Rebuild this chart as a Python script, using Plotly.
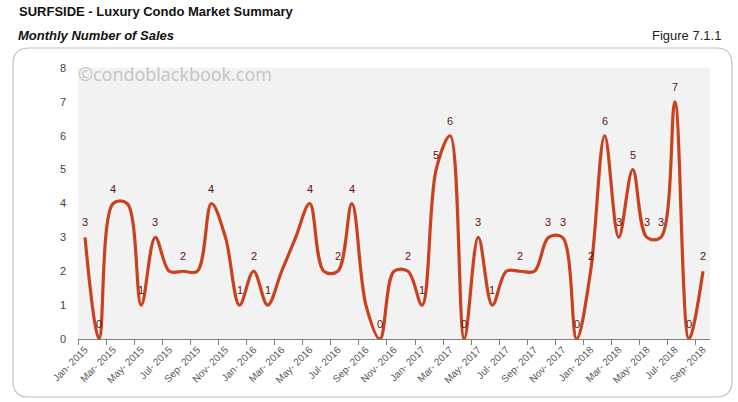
import plotly.graph_objects as go

# monthly number of sales, Jan 2015 .. Sep 2018
months = ["Jan", "Feb", "Mar", "Apr", "May", "Jun", "Jul", "Aug", "Sep", "Oct", "Nov", "Dec"]
years = [2015, 2016, 2017, 2018]
sales = [3, 0, 4, 4, 1, 3, 2, 2, 2, 4, 3, 1,
         2, 1, 2, 3, 4, 2, 2, 4, 1, 0, 2, 2,
         1, 5, 6, 0, 3, 1, 2, 2, 2, 3, 3, 0,
         2, 6, 3, 5, 3, 3, 7, 0, 2]
# which points carry a data label in the original
labeled = [1, 1, 1, 0, 1, 1, 0, 1, 0, 1, 0, 1,
           1, 1, 0, 0, 1, 0, 1, 1, 0, 1, 0, 1,
           1, 1, 1, 1, 1, 1, 0, 1, 0, 1, 1, 1,
           1, 1, 1, 1, 1, 1, 1, 1, 1]

month_labels = [f"{m}- {y}" for y in years for m in months][:len(sales)]
idx = list(range(len(sales)))

W, H = 738, 402
L, T = 78, 68
R, B = W - 710, H - 339
pw, ph = W - L - R, H - T - B


def px(x):
    return (x - L) / pw


def py_(y):
    return (H - B - y) / ph


fig = go.Figure()
fig.add_trace(go.Scatter(
    x=idx, y=sales, mode="lines",
    line=dict(color="#c9411e", width=3.2, shape="spline", smoothing=1.0),
    hoverinfo="skip", showlegend=False,
))

# data labels sit a little above each point
for i, v, f in zip(idx, sales, labeled):
    if f:
        fig.add_annotation(x=i, y=v, text=str(v), showarrow=False,
                           yshift=15, yanchor="middle",
                           font=dict(family="Liberation Sans, Arial", size=11,
                                     color="#5e1212"))

# rounded frame around the chart
x0, x1, y0, y1, r = px(13), px(732), py_(397), py_(48), 16
rx, ry = r / pw, r / ph
frame = (f"M {x0+rx},{y1} L {x1-rx},{y1} Q {x1},{y1} {x1},{y1-ry} "
         f"L {x1},{y0+ry} Q {x1},{y0} {x1-rx},{y0} L {x0+rx},{y0} "
         f"Q {x0},{y0} {x0},{y0+ry} L {x0},{y1-ry} Q {x0},{y1} {x0+rx},{y1} Z")
fig.add_shape(type="path", path=frame, xref="paper", yref="paper",
              line=dict(color="#c0c0c0", width=1.2), layer="below")

fig.add_annotation(x=px(17), y=py_(12), xref="paper", yref="paper",
                   text="<b>SURFSIDE - Luxury Condo Market Summary</b>",
                   showarrow=False, xanchor="left", yanchor="middle",
                   font=dict(family="Liberation Sans, Arial", size=13, color="#111"))
fig.add_annotation(x=px(16), y=py_(35), xref="paper", yref="paper",
                   text="<b><i>Monthly Number of Sales</i></b>",
                   showarrow=False, xanchor="left", yanchor="middle",
                   font=dict(family="Liberation Sans, Arial", size=13, color="#111"))
fig.add_annotation(x=px(723), y=py_(35), xref="paper", yref="paper",
                   text="Figure 7.1.1", showarrow=False,
                   xanchor="right", yanchor="middle",
                   font=dict(family="Liberation Sans, Arial", size=13, color="#222"))
fig.add_annotation(x=px(76), y=py_(74), xref="paper", yref="paper",
                   text="©condoblackbook.com", showarrow=False,
                   xanchor="left", yanchor="middle",
                   font=dict(family="Open Sans", size=18, color="#c4c4c4"))

fig.update_layout(
    width=W, height=H,
    margin=dict(l=L, r=R, t=T, b=B),
    paper_bgcolor="white", plot_bgcolor="#f2f2f2",
    font=dict(family="Liberation Sans, Arial", size=11, color="#444"),
)
fig.update_xaxes(
    range=[-0.5, len(sales) - 0.5],
    tickmode="array", tickvals=idx[::2], ticktext=month_labels[::2],
    tickangle=-45, ticks="", showgrid=False, zeroline=False,
    showline=True, linecolor="#7f7f7f", linewidth=1,
    tickfont=dict(size=10, color="#595959"),
    minor=dict(tick0=-0.5, dtick=2, ticks="outside", ticklen=5,
               tickcolor="#7f7f7f", showgrid=False),
)
fig.update_yaxes(
    range=[0, 8], dtick=1, showgrid=False, zeroline=False,
    showline=False, ticks="", ticklabelstandoff=11,
    tickfont=dict(size=11, color="#444"),
)

# drop the browser's default body margin so the figure fills the window
fig.write_html("out.html", config={"displayModeBar": False},
               post_script="document.body.style.margin='0';"
                           "document.body.style.overflow='hidden';")
